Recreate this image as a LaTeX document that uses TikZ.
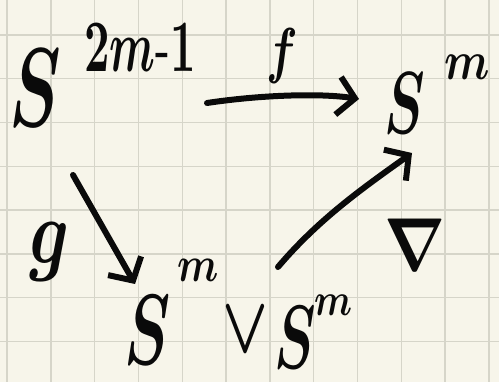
\documentclass[tikz,border=0pt]{standalone}
\usetikzlibrary{arrows.meta}
\definecolor{paper}{HTML}{F7F5EA}
\definecolor{gridc}{HTML}{D6D5C9}
\definecolor{ink}{HTML}{0A0A0A}
\newcommand{\hw}[3][0.62]{\pgfmathsetmacro\hwy{#2/10}\pgfmathsetmacro\hwx{#1*#2/10}\scalebox{\hwx}[\hwy]{\boldmath#3}}
\begin{document}
\begin{tikzpicture}[x=1pt,y=-1pt,
  lbl/.style={inner sep=0pt, text=ink},
  arr/.style={draw=ink, line width=6pt, line cap=round, line join=round,
    -{Straight Barb[length=17pt,width=38pt,line width=6pt]}}]
\fill[paper] (0,0) rectangle (499,382);
\useasboundingbox (0,0) rectangle (499,382);
\foreach \i in {0,...,11} {
  \draw[gridc, line width=1.4pt] ({7+43.8*\i},0) -- ({7+43.8*\i},382);
}
\foreach \j in {0,...,8} {
  \draw[gridc, line width=1.4pt] (0,{35+43.8*\j}) -- (499,{35+43.8*\j});
}
% top-left
\node[lbl] (sL) at (35,88) {\hw{112}{$S$}};
\node[lbl] (sLsup) at (140,48) {\hw[0.6]{74}{$2m$-$1$}};
% top-right
\node[lbl] (sR) at (405,103) {\hw{88}{$S$}};
\node[lbl] (sRsup) at (467,67) {\hw[0.8]{55}{$m$}};
% labels
\node[lbl] (f) at (282,56) {\hw[0.75]{62}{$f$}};
\node[lbl] (g) at (50,252) {\hw[0.75]{92}{$g$}};
\node[lbl] (nab) at (415,245) {\hw[0.85]{75}{$\nabla$}};
% bottom wedge
\node[lbl] (sB1) at (148,330) {\hw{100}{$S$}};
\node[lbl] (sB1sup) at (198,270) {\hw[0.8]{50}{$m$}};
\node[lbl] (vee) at (245,330) {\hw[0.75]{80}{$\vee$}};
\node[lbl] (sB2) at (295,338) {\hw{90}{$S$}};
\node[lbl] (sB2sup) at (333,305) {\hw[0.8]{46}{$m$}};
% arrow endpoints
\coordinate (fA) at (207,103);
\coordinate (fB) at (359,99);
\coordinate (gA) at (73,175);
\coordinate (gB) at (135,284);
\coordinate (hA) at (278,267);
\coordinate (hB) at (412,153);
\draw[arr] (fA) .. controls (260,95) and (320,93) .. (fB);
\draw[arr] (gA) -- (gB);
\draw[arr] (hA) .. controls (318,220) and (360,190) .. (hB);
\end{tikzpicture}
\end{document}
